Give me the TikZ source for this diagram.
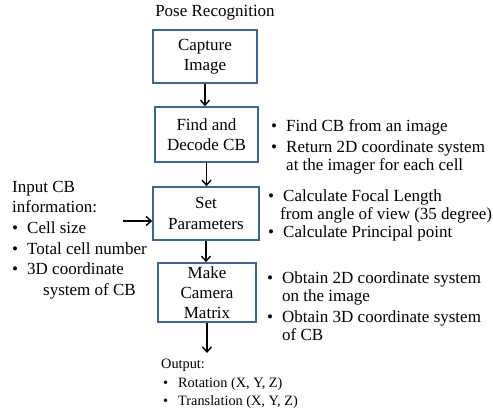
\documentclass[tikz,border=0pt]{standalone}
\usepackage{fontspec}
\setmainfont{Liberation Serif}
\usetikzlibrary{arrows.meta}
\definecolor{boxblue}{RGB}{62,100,150}
\newcommand{\bul}{\makebox[15pt][l]{\textbullet}}
\newcommand{\ind}{\hspace*{15pt}}

\begin{document}
\begin{tikzpicture}[x=1pt, y=-1pt]
    \tikzstyle{stage}=[draw=boxblue, line width=1.6pt, fill=white, align=center, inner sep=0pt, font=\fontsize{17}{20.5}\selectfont]
    \tikzstyle{note}=[align=left, inner sep=0pt, anchor=west, font=\fontsize{17}{18}\selectfont]
    \tikzstyle{small note}=[note, font=\fontsize{14.3}{18.5}\selectfont]
    \tikzstyle{flow}=[-{Straight Barb[length=5pt,width=9pt]}, line width=1.4pt]

    \useasboundingbox (0,0) rectangle (493,412);

    % Title
    \node[font=\fontsize{17}{18}\selectfont, inner sep=0pt] (title) at (215,13) {Pose Recognition};

    % Draw the stages
    \node[stage, minimum width=104, minimum height=53] (capture) at (205,56.5) {Capture\\Image};
    \node[stage, minimum width=103, minimum height=55] (decode) at (206.5,134.5) {Find and\\Decode CB};
    \node[stage, minimum width=106, minimum height=53] (setpar) at (206,213.5) {Set\\Parameters};
    \node[stage, minimum width=98, minimum height=59, font=\fontsize{17}{20}\selectfont] (camera) at (207,292.5) {Make\\Camera\\Matrix};

    % Notes beside the stages
    \node[note] (decodeNote) at (271,147) {\bul Find CB from an image\\[3pt]
        \bul Return 2D coordinate system\\ \ind at the imager for each cell};
    \node[note] (setNote) at (268,215) {\bul Calculate Focal Length\\ \hspace*{12pt}from angle of view (35 degree)\\
        \bul Calculate Principal point};
    \node[note] (cameraNote) at (267,306) {\bul Obtain 2D coordinate system\\ \ind on the image\\[3pt]
        \bul Obtain 3D coordinate system\\ \ind of CB};
    \node[note, font=\fontsize{17}{20.6}\selectfont] (inputNote) at (12,240) {Input CB\\information:\\
        \bul Cell size\\ \bul Total cell number\\ \bul 3D coordinate\\ \hspace*{31pt}system of CB};
    \node[small note] (outputNote) at (161,384) {Output:\\ \hspace*{2pt}\bul Rotation (X, Y, Z)\\
        \hspace*{2pt}\bul Translation (X, Y, Z)};

    % Connect the stages
    \coordinate (inputTail) at (123,221);
    \coordinate (outEnd) at (207,353);
    \draw[flow] (capture.south) -- (capture.south |- decode.north);
    \draw[flow] (decode.south) -- (decode.south |- setpar.north);
    \draw[flow] (setpar.south) -- (setpar.south |- camera.north);
    \draw[flow] (camera.south) -- (outEnd);
    \draw[flow] (inputTail) -- (inputTail -| setpar.west);
\end{tikzpicture}
\end{document}
